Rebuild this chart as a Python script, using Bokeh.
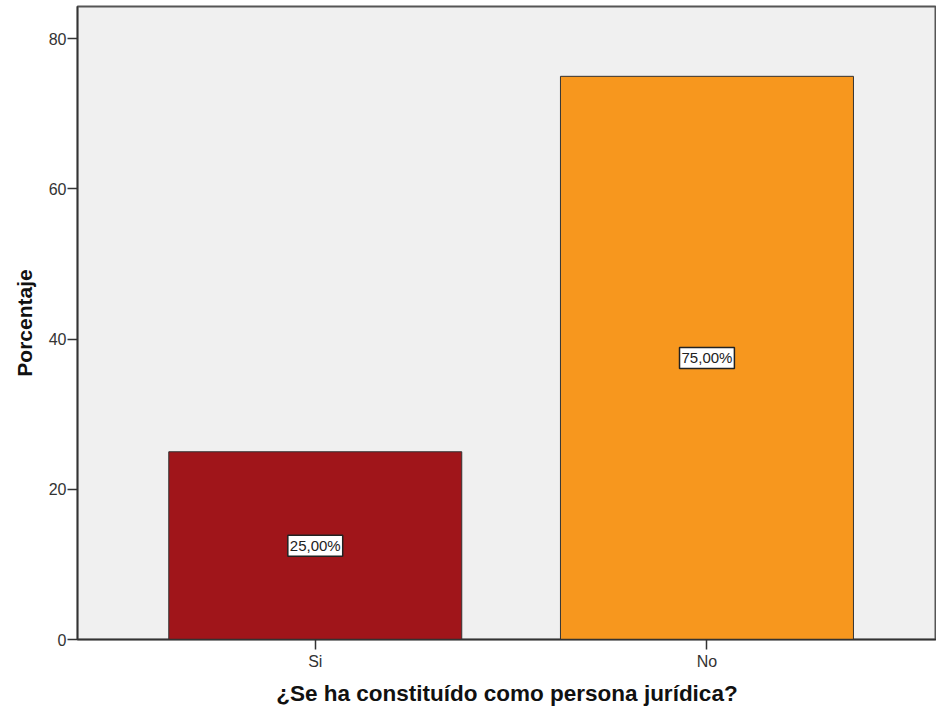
from bokeh.plotting import figure
from bokeh.models import ColumnDataSource, FixedTicker, Range1d
from bokeh.core.properties import value
from bokeh.embed import file_html
from bokeh.resources import INLINE

categories = ["Si", "No"]
percentages = [25.0, 75.0]
bar_colors = ["#A0151A", "#F7971E"]
y_ticks = [0, 20, 40, 60, 80]

xs = [i + 1 for i in range(len(categories))]
labels = [f"{v:.2f}".replace(".", ",") + "%" for v in percentages]
mids = [v / 2 for v in percentages]

src = ColumnDataSource(dict(x=xs, top=percentages, color=bar_colors, label=labels, mid=mids))

p = figure(width=936, height=712, output_backend="svg", toolbar_location=None,
           x_range=Range1d(0.393, 2.586), y_range=Range1d(0, 84.3),
           min_border_left=77, min_border_right=0, min_border_top=6, min_border_bottom=73)

p.background_fill_color = "#F0F0F0"
p.border_fill_color = "white"
p.outline_line_color = "#555555"
p.outline_line_width = 2
p.grid.visible = False

p.vbar(x="x", top="top", width=0.748, bottom=0, source=src, fill_color="color",
       line_color="#333333", line_width=1)

p.text(x="x", y="mid", text="label", source=src, text_align="center",
       text_baseline="middle", text_font=value("Liberation Sans"),
       text_font_size="15px", text_color="#222222",
       background_fill_color="white", border_line_color="#222222",
       border_line_width=1.5, padding=2)

p.xaxis.ticker = FixedTicker(ticks=xs)
p.xaxis.major_label_overrides = {x: c for x, c in zip(xs, categories)}
p.yaxis.ticker = FixedTicker(ticks=y_ticks)

for ax in (p.xaxis[0], p.yaxis[0]):
    ax.axis_line_color = "#333333"
    ax.axis_line_width = 1.5
    ax.major_tick_line_color = "#333333"
    ax.major_tick_line_width = 1.5
    ax.major_tick_in = 0
    ax.major_tick_out = 10
    ax.minor_tick_line_color = None
    ax.major_label_text_font = "Liberation Sans"
    ax.major_label_text_font_size = "16px"
    ax.major_label_text_color = "#333333"
    ax.axis_label_text_font = "Liberation Sans"
    ax.axis_label_text_font_style = "bold"
    ax.axis_label_text_color = "#111111"

p.xaxis.axis_label = "¿Se ha constituído como persona jurídica?"
p.xaxis.axis_label_text_font_size = "22.5px"
p.xaxis.major_label_standoff = 3
p.xaxis.axis_label_standoff = 8
p.yaxis.axis_label = "Porcentaje"
p.yaxis.axis_label_text_font_size = "21px"
p.yaxis.major_label_standoff = 1
p.yaxis.axis_label_standoff = 10

open("out.html", "w").write(file_html(p, INLINE))
